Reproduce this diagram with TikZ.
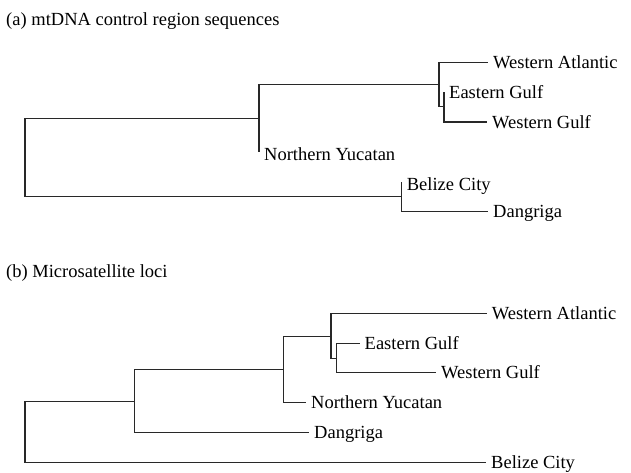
\documentclass[tikz,border=0pt]{standalone}
\usepackage{fontspec}
\setmainfont{Liberation Serif}
\usepackage{tikz}
\usetikzlibrary{positioning}
\definecolor{cline}{RGB}{40,40,40}

\begin{document}
\begin{tikzpicture}[
  x=1pt,y=-1pt,
  font=\fontsize{18.5}{22}\selectfont,
  br/.style={draw=cline,line width=1.1pt},
  lf/.style={anchor=west,inner xsep=5pt,inner ysep=0pt,text height=12.2pt,text depth=0pt},
  st/.style={lf,text height=18.2pt},
  ttl/.style={anchor=base west,inner sep=0pt},
]
\useasboundingbox (0,0) rectangle (631,472);
% --- (a) mtDNA tree ---
\node[ttl] (ta) at (6,25) {(a) mtDNA control region sequences};
\coordinate (ra) at (25,157.5);
\coordinate (na) at (259,118.3);
\coordinate (nb) at (439,84.3);
\coordinate (nc) at (444,106.7);
\coordinate (da) at (401.7,196.7);
\node[lf] (wa) at (488,62.7) {Western Atlantic};
\node[lf] (eg) at (444,92) {Eastern Gulf};
\node[lf] (wg) at (487,122) {Western Gulf};
\node[st] (ny) at (259,151.7) {Northern Yucatan};
\node[st] (bc) at (401.7,181.7) {Belize City};
\node[lf] (dg) at (488,211.7) {Dangriga};
\draw[br] (ra) |- (na); \draw[br] (ra) |- (da);
\draw[br] (na) |- (nb); \draw[br] (na) |- (ny.west);
\draw[br] (nb) |- (wa.west); \draw[br] (nb) |- (nc);
\draw[br] (nc) |- (eg.west); \draw[br] (nc) |- (wg.west);
\draw[br] (da) |- (bc.west); \draw[br] (da) |- (dg.west);
% --- (b) microsatellite tree ---
\node[ttl] (tb) at (6,277) {(b) Microsatellite loci};
\coordinate (rb) at (25,432.2);
\coordinate (eb) at (134.7,401.7);
\coordinate (fb) at (283.3,369.3);
\coordinate (gb) at (331,336.7);
\coordinate (hb) at (336.7,358.3);
\node[lf] (wab) at (486.7,313.3) {Western Atlantic};
\node[lf] (egb) at (359.5,343.3) {Eastern Gulf};
\node[lf] (wgb) at (436,372.7) {Western Gulf};
\node[lf] (nyb) at (306,402.7) {Northern Yucatan};
\node[lf] (dgb) at (309,432.7) {Dangriga};
\node[lf] (bcb) at (486,462.7) {Belize City};
\draw[br] (rb) |- (eb); \draw[br] (rb) |- (bcb.west);
\draw[br] (eb) |- (fb); \draw[br] (eb) |- (dgb.west);
\draw[br] (fb) |- (gb); \draw[br] (fb) |- (nyb.west);
\draw[br] (gb) |- (wab.west); \draw[br] (gb) |- (hb);
\draw[br] (hb) |- (egb.west); \draw[br] (hb) |- (wgb.west);
\end{tikzpicture}
\end{document}
